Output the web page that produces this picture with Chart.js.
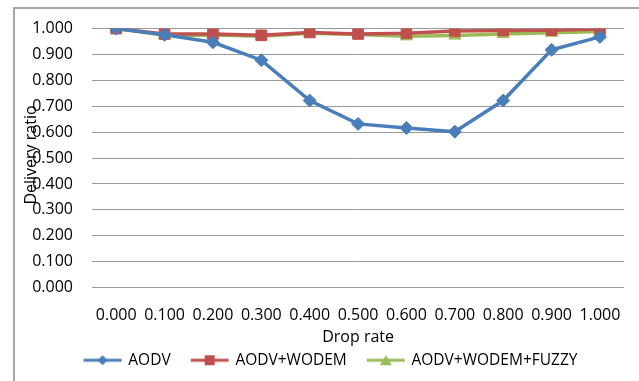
<!DOCTYPE html>
<html>
<head>
<meta charset="utf-8">
<script src="https://cdn.jsdelivr.net/npm/chart.js@4/dist/chart.umd.min.js"></script>
<style>
  html, body { margin: 0; padding: 0; background: #ffffff; }
  #wrap { position: relative; width: 639px; height: 381px; overflow: hidden; }
  #frame { position: absolute; left: 13px; top: 7px; width: 700px; height: 500px;
           border-left: 2px solid #a6a6a6; border-top: 2px solid #a6a6a6; box-sizing: border-box; }
  canvas { position: absolute; left: 0; top: 0; }
</style>
</head>
<body>
<div id="wrap">
  <div id="frame"></div>
  <canvas id="c" width="639" height="381"></canvas>
</div>
<script>
// Drop rate categories and delivery ratio per routing scheme
const dropRates = ['0.000', '0.100', '0.200', '0.300', '0.400', '0.500', '0.600', '0.700', '0.800', '0.900', '1.000'];
const aodv = [1.000, 0.976, 0.947, 0.878, 0.722, 0.632, 0.616, 0.602, 0.722, 0.918, 0.968];
const aodvWodem = [1.000, 0.979, 0.979, 0.974, 0.985, 0.979, 0.982, 0.991, 0.993, 0.994, 0.998];
const aodvWodemFuzzy = [1.000, 0.974, 0.975, 0.970, 0.982, 0.977, 0.970, 0.973, 0.979, 0.984, 0.989];
const seriesNames = ['AODV', 'AODV+WODEM', 'AODV+WODEM+FUZZY'];

const FONT = "'Open Sans', sans-serif";
const FS = 16;
const BLUE = '#4a7ebb';
const RED = '#c0504d';
const GREEN = '#9bbb59';

// Small legend swatch: a line segment with the series marker on it
function swatch(color, kind) {
  const cv = document.createElement('canvas');
  cv.width = 44; cv.height = 14;
  const g = cv.getContext('2d');
  g.strokeStyle = color; g.lineWidth = 3;
  g.beginPath(); g.moveTo(3, 7); g.lineTo(41, 7); g.stroke();
  g.fillStyle = color;
  g.beginPath();
  if (kind === 'diamond') {
    g.moveTo(22, 2); g.lineTo(27, 7); g.lineTo(22, 12); g.lineTo(17, 7);
  } else if (kind === 'square') {
    g.rect(17, 2, 10, 10);
  } else {
    g.moveTo(22, 2); g.lineTo(28, 12); g.lineTo(16, 12);
  }
  g.closePath(); g.fill();
  return cv;
}
const swatches = [swatch(BLUE, 'diamond'), swatch(RED, 'square'), swatch(GREEN, 'triangle')];

// Rotated y-axis title drawn over the tick label column
const yTitle = {
  id: 'yTitle',
  afterDraw(chart) {
    const ctx = chart.ctx;
    ctx.save();
    ctx.translate(31, 155);
    ctx.rotate(-Math.PI / 2);
    ctx.font = FS + "px " + FONT;
    ctx.fillStyle = '#000000';
    ctx.textAlign = 'center';
    ctx.textBaseline = 'middle';
    ctx.fillText('Delivery ratio', 0, 0);
    ctx.restore();
  }
};

// Legend row sits a little right of the canvas centre
const legendShift = {
  id: 'legendShift',
  afterLayout(chart) {
    if (chart.legend) chart.legend.left += 37;
  }
};

function ds(label, data, color, style, radius) {
  return {
    label, data,
    borderColor: color, backgroundColor: color,
    borderWidth: 3.5,
    pointStyle: style, pointRadius: radius, pointHoverRadius: radius,
    pointBorderWidth: 1, pointBorderColor: color, pointBackgroundColor: color,
    tension: 0
  };
}

new Chart(document.getElementById('c'), {
  type: 'line',
  data: {
    labels: dropRates,
    datasets: [
      ds(seriesNames[0], aodv, BLUE, 'rectRot', 6.5),
      ds(seriesNames[1], aodvWodem, RED, 'rect', 7.5),
      ds(seriesNames[2], aodvWodemFuzzy, GREEN, 'triangle', 7)
    ]
  },
  options: {
    responsive: false,
    animation: false,
    layout: { padding: { top: 27, right: 14, left: 0, bottom: 3 } },
    plugins: {
      legend: {
        position: 'bottom',
        labels: {
          usePointStyle: true,
          pointStyleWidth: 36,
          padding: 21,
          color: '#000000',
          font: { family: FONT, size: 15.5 },
          generateLabels(chart) {
            return chart.data.datasets.map((d, i) => ({
              text: d.label, pointStyle: swatches[i], datasetIndex: i,
              fillStyle: d.borderColor, strokeStyle: d.borderColor, lineWidth: 0, hidden: false
            }));
          }
        }
      },
      tooltip: { enabled: false }
    },
    scales: {
      x: {
        offset: true,
        afterFit(scale) { scale.height = 44; },
        grid: { display: false, drawTicks: false },
        border: { display: false },
        ticks: { color: '#000000', padding: 18, maxRotation: 0, autoSkip: false, font: { family: FONT, size: FS } },
        title: { display: true, text: 'Drop rate', color: '#000000', padding: { top: 0, bottom: -15.6 }, font: { family: FONT, size: FS } }
      },
      y: {
        min: 0, max: 1,
        afterFit(scale) { scale.width = 92; },
        grid: { color: '#999999', lineWidth: 1, drawTicks: false },
        border: { display: false },
        ticks: {
          stepSize: 0.1, padding: 19, color: '#000000',
          font: { family: FONT, size: FS },
          callback: v => Number(v).toFixed(3)
        }
      }
    }
  },
  plugins: [yTitle, legendShift]
});
</script>
</body>
</html>
